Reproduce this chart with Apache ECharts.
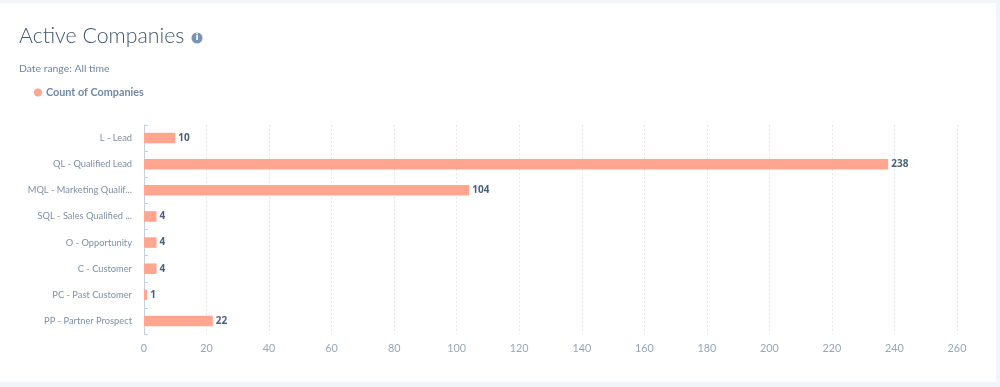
<!DOCTYPE html>
<html><head><meta charset="utf-8">
<style>
html,body{margin:0;padding:0;background:#f1f4f8;width:1000px;height:387px;overflow:hidden}
#c{position:absolute;left:0;top:0;width:1000px;height:387px}
</style>
<script src="https://cdn.jsdelivr.net/npm/echarts@6/dist/echarts.min.js"></script>
</head><body><div id="c"></div>
<script>
const categories = ["L - Lead","QL - Qualified Lead","MQL - Marketing Qualif...","SQL - Sales Qualified ...","O - Opportunity","C - Customer","PC - Past Customer","PP - Partner Prospect"];
const companyCounts = [10,238,104,4,4,4,1,22];
const seriesName = "Count of Companies";
const font = "Lato, 'Open Sans', sans-serif";
const chart = echarts.init(document.getElementById('c'), null, {renderer:'canvas'});
chart.setOption({
  animation:false,
  backgroundColor:'transparent',
  textStyle:{fontFamily:font},
  graphic:[
    {type:'rect',z:-10,shape:{x:0,y:3,width:996,height:379},style:{fill:'#ffffff'}},
    {type:'circle',shape:{cx:197,cy:38,r:5.5},style:{fill:'#7b93b4'}},
    {type:'text',style:{x:197,y:38,text:'i',align:'center',verticalAlign:'middle',fill:'#fff',font:'bold 9px '+"'DejaVu Sans'"}},
    {type:'text',style:{x:19,y:69,text:'Date range: All time',verticalAlign:'middle',fill:'#72859d',font:'10.4px '+font}}
  ],
  title:{text:'Active Companies',left:19,top:26,padding:0,textStyle:{fontFamily:font,fontSize:21.3,fontWeight:300,color:'#40566f'}},
  legend:{left:34,top:87,padding:0,icon:'circle',itemWidth:8,itemHeight:8,itemGap:6,
    textStyle:{fontFamily:font,fontSize:10.8,fontWeight:'bold',color:'#7089a8',padding:[0,0,0,-1]},data:[seriesName]},
  grid:{left:144,right:43,top:125,bottom:53,containLabel:false},
  xAxis:{type:'value',min:0,max:260,interval:20,
    axisLine:{show:false},axisTick:{show:false},
    axisLabel:{color:'#98a6b8',fontSize:10.8,margin:9,fontFamily:font},
    splitLine:{show:true,lineStyle:{color:'#e3e7ee',type:[2,2],width:1}}},
  yAxis:{type:'category',inverse:true,data:categories,
    axisLine:{show:true,lineStyle:{color:'#c5d0de',width:1}},
    axisTick:{show:true,length:4,inside:true,alignWithLabel:false,lineStyle:{color:'#c5d0de'}},
    axisLabel:{color:'#7f90a6',fontSize:9.3,margin:12,fontFamily:font,padding:[3,0,0,0]}},
  series:[{name:seriesName,type:'bar',data:companyCounts,barWidth:10.5,
    itemStyle:{color:'#ffa590'},
    label:{show:true,position:'right',distance:3,color:'#4a5f7c',fontSize:10,fontWeight:'bold',fontFamily:"'Open Sans', sans-serif",padding:[4,0,0,0]}}]
});
</script></body></html>
